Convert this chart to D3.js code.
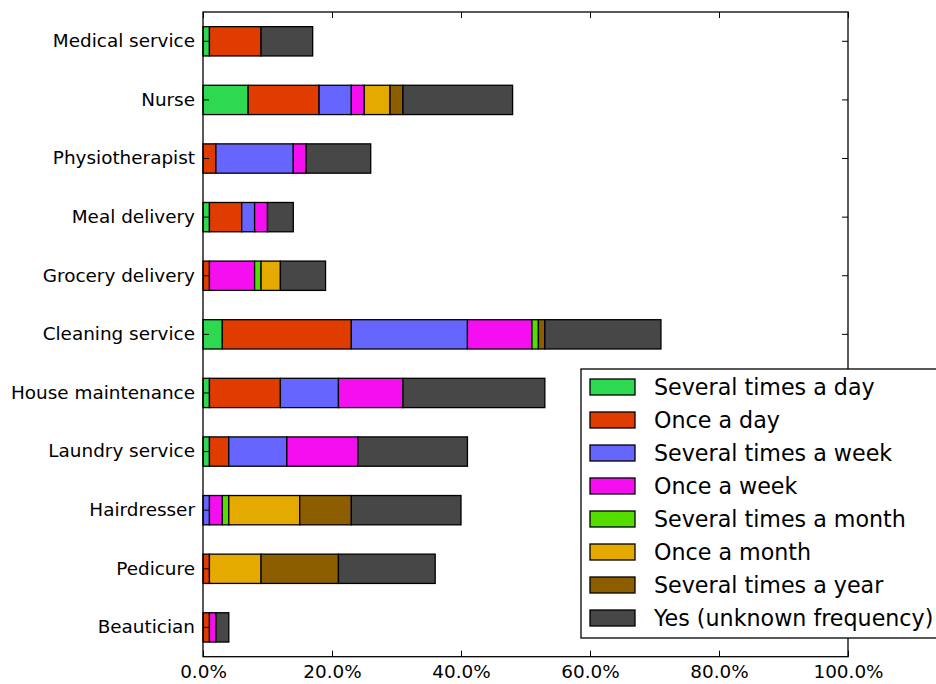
<!DOCTYPE html>
<html><head><meta charset="utf-8">
<script src="https://cdn.jsdelivr.net/npm/d3@7"></script>
<style>body{margin:0;background:#fff}svg{display:block}text{font-family:"DejaVu Sans",sans-serif}</style>
</head><body><svg id="c" width="936" height="684"></svg>
<script>
const categories = ["Medical service","Nurse","Physiotherapist","Meal delivery","Grocery delivery","Cleaning service","House maintenance","Laundry service","Hairdresser","Pedicure","Beautician"];
const seriesNames = ["Several times a day","Once a day","Several times a week","Once a week","Several times a month","Once a month","Several times a year","Yes (unknown frequency)"];
const seriesColors = ["#2ed850","#e03c00","#6666ff","#f50ff0","#55dd00","#e4aa00","#8c5e00","#474747"];
// values in % per category, order of seriesNames
const severalDay   = [1, 7, 0, 1, 0, 3, 1, 1, 0, 0, 0];
const onceDay      = [8, 11, 2, 5, 1, 20, 11, 3, 0, 1, 1];
const severalWeek  = [0, 5, 12, 2, 0, 18, 9, 9, 1, 0, 0];
const onceWeek     = [0, 2, 2, 2, 7, 10, 10, 11, 2, 0, 1];
const severalMonth = [0, 0, 0, 0, 1, 1, 0, 0, 1, 0, 0];
const onceMonth    = [0, 4, 0, 0, 3, 0, 0, 0, 11, 8, 0];
const severalYear  = [0, 2, 0, 0, 0, 1, 0, 0, 8, 12, 0];
const unknownFreq  = [8, 17, 10, 4, 7, 18, 22, 17, 17, 15, 2];
const xTicks = [0, 20, 40, 60, 80, 100];
const seriesValues = [severalDay, onceDay, severalWeek, onceWeek, severalMonth, onceMonth, severalYear, unknownFreq];

const svg = d3.select("#c");
const L = 203, R = 848, T = 12, B = 656.7;
const x = d3.scaleLinear().domain([0, 100]).range([L, R]);
const y = d3.scaleBand().domain(categories).range([T, B]).paddingInner(0.5).paddingOuter(0.25);

const rows = categories.map((c, i) => {
  const o = {cat: c};
  seriesNames.forEach((s, j) => o[s] = seriesValues[j][i]);
  return o;
});
const stack = d3.stack().keys(seriesNames)(rows);

const g = svg.append("g");
stack.forEach((layer, j) => {
  g.selectAll(null).data(layer.filter(d => d[1] - d[0] > 0)).enter().append("rect")
    .attr("x", d => x(d[0])).attr("width", d => x(d[1]) - x(d[0]))
    .attr("y", d => y(d.data.cat)).attr("height", y.bandwidth())
    .attr("fill", seriesColors[j]).attr("stroke", "#000").attr("stroke-width", 1.3);
});

// frame
svg.append("rect").attr("x", L).attr("y", T).attr("width", R - L).attr("height", B - T)
  .attr("fill", "none").attr("stroke", "#000").attr("stroke-width", 1.3);

// x axis
const xa = svg.append("g").attr("transform", `translate(0,${B})`)
  .call(d3.axisBottom(x).tickValues(xTicks).tickSize(-6).tickPadding(8).tickFormat(d => d.toFixed(1) + "%"));
xa.select(".domain").remove();
xa.selectAll("text").attr("font-size", 18.4).attr("font-family", "DejaVu Sans").attr("fill", "#000");
xa.selectAll("line").attr("stroke", "#000");
const xt = svg.append("g").attr("transform", `translate(0,${T})`)
  .call(d3.axisTop(x).tickValues(xTicks).tickSize(-6).tickFormat(""));
xt.select(".domain").remove();

// y axis
const ya = svg.append("g").attr("transform", `translate(${L},0)`)
  .call(d3.axisLeft(y).tickSize(-6).tickPadding(8));
ya.select(".domain").remove();
ya.selectAll("text").attr("font-size", 18.4).attr("font-family", "DejaVu Sans").attr("fill", "#000");
const yr = svg.append("g").attr("transform", `translate(${R},0)`)
  .call(d3.axisRight(y).tickSize(-6).tickFormat(""));
yr.select(".domain").remove();

// legend
const lg = svg.append("g").attr("transform", "translate(581,369)");
lg.append("rect").attr("x", 0).attr("y", 0).attr("width", 370).attr("height", 269)
  .attr("fill", "#fff").attr("stroke", "#000").attr("stroke-width", 1.3);
seriesNames.forEach((s, j) => {
  const yy = 18 + j * 33;
  lg.append("rect").attr("x", 9).attr("y", yy - 8).attr("width", 45).attr("height", 16)
    .attr("fill", seriesColors[j]).attr("stroke", "#000").attr("stroke-width", 1.3);
  lg.append("text").attr("x", 73).attr("y", yy).attr("dy", "0.35em")
    .attr("font-size", 22.2).text(s);
});
</script></body></html>
